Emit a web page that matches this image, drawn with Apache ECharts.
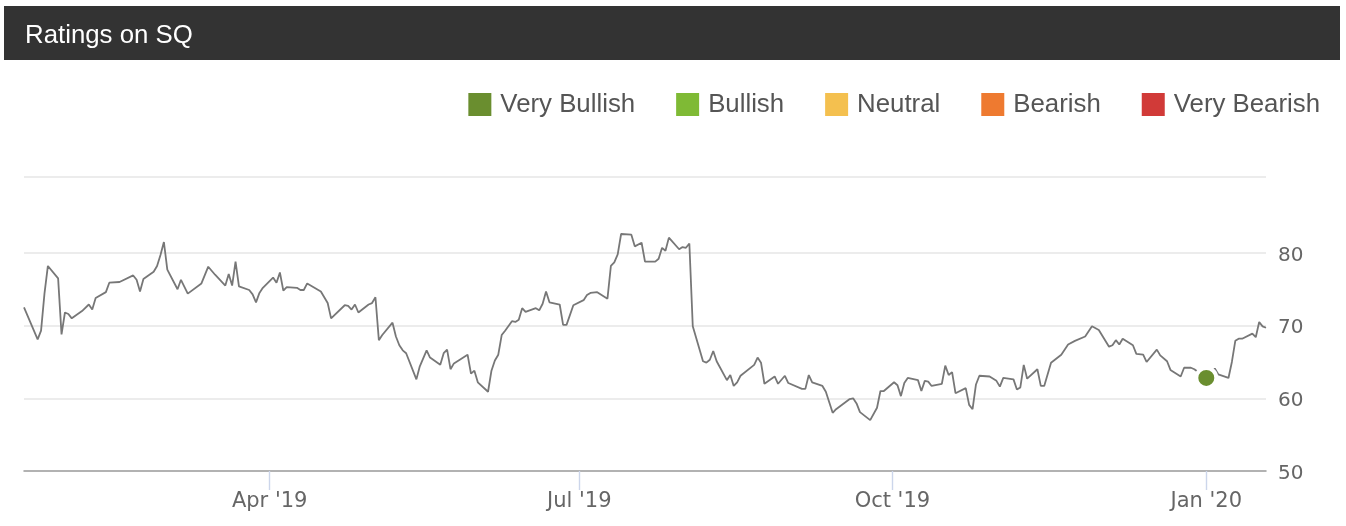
<!DOCTYPE html>
<html lang="en">
<head>
    <meta charset="utf-8"/>
    <title>Ratings on SQ</title>
    <script src="https://cdn.jsdelivr.net/npm/echarts@6/dist/echarts.min.js"></script>
    <style>
        * { margin: 0; padding: 0; }
        html, body { width: 100%; height: 100%; background: #fff; overflow: hidden; }
        #main { width: 1346px; height: 526px; }
    </style>
</head>
<body>
<div id="main"></div>
<script>
    var chartTitle = 'Ratings on SQ';
    var ratingNames = ['Very Bullish', 'Bullish', 'Neutral', 'Bearish', 'Very Bearish'];
    var ratingColors = ['#6a8e2f', '#7fba35', '#f4c04f', '#ee7a30', '#d13a38'];

    // price points
    var dates = [
        '2019-01-19','2019-01-23','2019-01-24','2019-01-25','2019-01-26','2019-01-29','2019-01-30','2019-01-31',
        '2019-02-01','2019-02-02','2019-02-05','2019-02-07','2019-02-08','2019-02-09','2019-02-12','2019-02-13','2019-02-16','2019-02-20','2019-02-21','2019-02-22','2019-02-23','2019-02-26','2019-02-27','2019-02-28',
        '2019-03-01','2019-03-02','2019-03-05','2019-03-06','2019-03-08','2019-03-12','2019-03-14','2019-03-16','2019-03-19','2019-03-20','2019-03-21','2019-03-22','2019-03-23','2019-03-26','2019-03-27','2019-03-28','2019-03-29','2019-03-30',
        '2019-04-02','2019-04-03','2019-04-04','2019-04-05','2019-04-06','2019-04-09','2019-04-10','2019-04-11','2019-04-12','2019-04-16','2019-04-18','2019-04-19','2019-04-23','2019-04-24','2019-04-25','2019-04-26','2019-04-27','2019-04-30',
        '2019-05-01','2019-05-02','2019-05-03','2019-05-04','2019-05-07','2019-05-08','2019-05-09','2019-05-10','2019-05-11','2019-05-14','2019-05-15','2019-05-17','2019-05-18','2019-05-21','2019-05-22','2019-05-23','2019-05-24','2019-05-25','2019-05-29','2019-05-30','2019-05-31',
        '2019-06-01','2019-06-04','2019-06-05','2019-06-06','2019-06-07','2019-06-08','2019-06-09','2019-06-11','2019-06-12','2019-06-13','2019-06-14','2019-06-15','2019-06-18','2019-06-19','2019-06-20','2019-06-21','2019-06-22','2019-06-25','2019-06-26','2019-06-27','2019-06-29',
        '2019-07-02','2019-07-03','2019-07-04','2019-07-06','2019-07-09','2019-07-10','2019-07-11','2019-07-12','2019-07-13','2019-07-16','2019-07-17','2019-07-19','2019-07-20','2019-07-23','2019-07-24','2019-07-25','2019-07-26','2019-07-27','2019-07-30','2019-07-31',
        '2019-08-01','2019-08-02','2019-08-03','2019-08-06','2019-08-07','2019-08-08','2019-08-09','2019-08-10','2019-08-13','2019-08-14','2019-08-15','2019-08-16','2019-08-17','2019-08-21','2019-08-22','2019-08-23','2019-08-24','2019-08-27','2019-08-28','2019-08-30','2019-08-31',
        '2019-09-04','2019-09-05','2019-09-06','2019-09-07','2019-09-10','2019-09-11','2019-09-13','2019-09-14','2019-09-18','2019-09-19','2019-09-20','2019-09-21','2019-09-24','2019-09-26','2019-09-27','2019-09-28',
        '2019-10-01','2019-10-02','2019-10-03','2019-10-04','2019-10-05','2019-10-08','2019-10-09','2019-10-10','2019-10-11','2019-10-12','2019-10-15','2019-10-16','2019-10-17','2019-10-18','2019-10-19','2019-10-22','2019-10-23','2019-10-24','2019-10-25','2019-10-26','2019-10-29','2019-10-31',
        '2019-11-01','2019-11-02','2019-11-05','2019-11-06','2019-11-07','2019-11-08','2019-11-09','2019-11-12','2019-11-13','2019-11-14','2019-11-16','2019-11-19','2019-11-21','2019-11-23','2019-11-26','2019-11-28','2019-11-30',
        '2019-12-03','2019-12-04','2019-12-05','2019-12-06','2019-12-07','2019-12-10','2019-12-11','2019-12-13','2019-12-14','2019-12-17','2019-12-18','2019-12-20','2019-12-21','2019-12-24','2019-12-25','2019-12-27','2019-12-28',
        '2019-12-31 12:00','2020-01-03','2020-01-04','2020-01-07','2020-01-08','2020-01-09','2020-01-10','2020-01-11','2020-01-14','2020-01-15','2020-01-16','2020-01-17','2020-01-18'
    ];
    var values = [
        72.5,68.1,69.3,74.4,78.2,76.5,68.8,71.8,
        71.6,71.0,72.0,72.9,72.2,73.8,74.6,75.9,76.0,76.9,76.3,74.7,76.4,77.4,78.2,79.7,
        81.5,77.7,75.0,76.3,74.4,75.8,78.1,77.0,75.5,77.1,75.5,78.8,75.4,74.9,74.3,73.2,74.5,75.2,
        76.6,75.9,77.3,74.8,75.3,75.2,74.9,74.9,75.8,74.7,73.1,71.0,72.8,72.7,72.2,72.9,71.8,72.9,
        73.1,73.9,68.0,68.7,70.4,68.5,67.3,66.6,66.2,62.6,64.4,66.6,65.6,64.6,66.2,66.7,64.0,64.8,66.0,63.4,63.8,
        62.2,60.9,63.8,65.2,66.0,68.7,69.3,70.6,70.5,70.8,72.4,71.9,72.4,72.1,73.0,74.7,73.2,72.9,70.1,70.1,72.8,
        73.5,74.2,74.5,74.6,73.7,78.2,78.7,79.8,82.6,82.5,80.9,81.4,78.8,78.8,79.2,80.7,80.3,82.1,80.5,80.8,
        80.7,81.3,69.9,65.1,64.9,65.3,66.5,65.1,62.5,63.2,61.7,62.2,63.1,64.6,65.6,64.9,62.0,63.0,62.0,63.1,62.1,
        61.3,61.3,63.2,62.2,61.7,60.9,58.0,58.5,59.9,60.0,59.3,58.1,57.0,58.7,61.0,61.0,
        62.2,61.8,60.3,62.1,62.8,62.5,61.0,62.4,62.3,61.7,62.0,64.5,63.2,63.6,60.7,61.4,59.1,58.5,61.9,63.1,63.0,62.4,
        61.6,62.8,62.6,61.2,61.5,64.6,62.7,64.0,61.7,61.7,64.9,66.0,67.4,67.9,68.5,69.9,69.4,
        67.1,67.3,68.0,67.4,68.2,67.3,66.1,66.0,65.0,66.7,65.9,65.1,63.9,63.0,64.2,64.2,64.0,
        62.8,64.1,63.3,62.8,65.0,67.9,68.2,68.2,68.9,68.4,70.5,69.9,69.7
    ];

    // the single rating dot
    var ratingDate = '2019-12-31 12:00';
    var ratingValue = 62.8;

    var startDate = '2019-01-19';
    var endDate = '2020-01-18';
    var tickDates = ['2019-04-01', '2019-06-30 18:00', '2019-09-30 12:00', '2019-12-31 12:00'];
    var tickLabels = ["Apr '19", "Jul '19", "Oct '19", "Jan '20"];
    var yTicks = [50, 60, 70, 80];
    var gridValues = [60, 70, 80, 90.44];

    function toTime(d) {
        return +echarts.time.parse(d);
    }
    var tickTimes = tickDates.map(toTime);

    var series = ratingNames.map(function (name, i) {
        return {
            name: name,
            type: 'scatter',
            z: 5,
            symbolSize: 20,
            itemStyle: {color: ratingColors[i], borderColor: '#fff', borderWidth: 4, opacity: 1},
            data: i === 0 ? [[toTime(ratingDate), ratingValue]] : []
        };
    });

    series.unshift({
        name: 'Price',
        type: 'line',
        z: 2,
        showSymbol: false,
        silent: true,
        lineStyle: {color: '#777777', width: 1.8},
        data: dates.map(function (d, i) { return [toTime(d), values[i]]; }),
        markLine: {
            z: 1,
            silent: true,
            symbol: 'none',
            animation: false,
            label: {show: false},
            lineStyle: {color: '#e6e6e6', width: 1.5, type: 'solid'},
            data: gridValues.map(function (v) { return {yAxis: v}; })
        }
    });

    var chart = echarts.init(document.getElementById('main'));
    chart.setOption({
        animation: false,
        backgroundColor: '#fff',
        title: {
            text: chartTitle,
            left: 25,
            top: 23,
            padding: 0,
            textStyle: {color: '#fff', fontFamily: 'Liberation Sans', fontSize: 25.8, fontWeight: 'normal'}
        },
        graphic: [{
            type: 'rect',
            z: 0,
            shape: {x: 4, y: 6, width: 1336, height: 54},
            style: {fill: '#333333'}
        }],
        legend: {
            data: ratingNames,
            right: 26,
            top: 91.5,
            padding: 0,
            icon: 'rect',
            itemWidth: 23,
            itemHeight: 23,
            itemGap: 41,
            itemStyle: {borderWidth: 0},
            textStyle: {color: '#555555', fontFamily: 'Liberation Sans', fontSize: 25.8, padding: [0, 0, 0, 4]}
        },
        grid: {left: 24, right: 80, top: 177, bottom: 55},
        xAxis: {
            type: 'value',
            min: toTime(startDate),
            max: toTime(endDate),
            splitLine: {show: false},
            axisLine: {onZero: false, lineStyle: {color: '#999999', width: 1.5}},
            axisTick: {customValues: tickTimes, length: 19, lineStyle: {color: '#ccd6eb', width: 1.4}},
            axisLabel: {
                customValues: tickTimes,
                margin: 20,
                color: '#666666',
                fontFamily: 'DejaVu Sans',
                fontSize: 21,
                formatter: function (v) { return tickLabels[tickTimes.indexOf(+v)]; }
            }
        },
        yAxis: {
            type: 'value',
            position: 'right',
            min: 50,
            max: 90.44,
            interval: 10,
            splitLine: {show: false},
            axisLine: {show: false},
            axisTick: {show: false},
            axisLabel: {
                customValues: yTicks,
                margin: 12,
                formatter: '{tick|{value}}',
                rich: {
                    tick: {color: '#666666', fontFamily: 'DejaVu Sans', fontSize: 20, padding: [5, 0, 0, 0]}
                }
            }
        },
        series: series
    });
</script>
</body>
</html>
